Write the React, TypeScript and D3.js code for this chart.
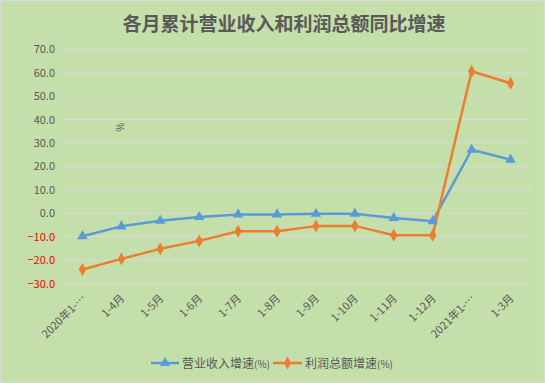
import React from "react";
import * as d3 from "d3";

const categories = ["2020年1-…", "1-4月", "1-5月", "1-6月", "1-7月", "1-8月", "1-9月", "1-10月", "1-11月", "1-12月", "2021年1-…", "1-3月"];
const revenueGrowth = [-9.8, -5.6, -3.2, -1.6, -0.5, -0.5, -0.2, -0.2, -2.0, -3.4, 27.1, 22.9];
const profitGrowth = [-24.0, -19.5, -15.2, -11.8, -7.7, -7.7, -5.5, -5.4, -9.4, -9.4, 60.6, 55.5];
const yTicks = [70, 60, 50, 40, 30, 20, 10, 0, -10, -20, -30];
const title = "各月累计营业收入和利润总额同比增速";
const seriesNames = ["营业收入增速", "利润总额增速"];

const W = 545, H = 383;
const font = "'Noto Sans CJK SC', 'Noto Sans', sans-serif";
const BLUE = "#5B9BD5";
const ORANGE = "#ED7D31";
const GRAY = "#595959";

export default function App() {
  const x = d3.scaleBand<string>().domain(categories).range([63, 530]);
  const y = d3.scaleLinear().domain([-30, 70]).range([283.5, 49.3]);
  const cx = (c: string) => (x(c) as number) + x.bandwidth() / 2;
  const line = d3.line<number>().x((_, i) => cx(categories[i])).y((d) => y(d));
  const tri = d3.symbol().type(d3.symbolTriangle).size(48)();
  const dia = d3.symbol().type(d3.symbolDiamond).size(48)();

  return (
    <svg width={W} height={H} style={{ position: "absolute", left: 0, top: 0, fontFamily: font }}>
      <rect x={0.5} y={0.5} width={W - 1} height={H - 1} fill="#C4DFA9" stroke="#D9D9D9" strokeWidth={1.5} />
      <text x={284} y={31} textAnchor="middle" fontSize={19} fontWeight="bold" fill={GRAY}>{title}</text>
      {yTicks.map((t) => (
        <g key={t}>
          <line x1={63} x2={530} y1={y(t)} y2={y(t)} stroke="#D9D9D9" strokeWidth={1} />
          <text x={55} y={y(t) + 4} textAnchor="end" fontSize={11} fill={t < 0 ? "#FF0000" : GRAY}>{d3.format(".1f")(t)}</text>
        </g>
      ))}
      <text transform="translate(116,127) rotate(90)" fontSize={10} fill={GRAY} textAnchor="middle">%</text>
      {categories.map((c) => (
        <text key={c} transform={`translate(${cx(c) + 4},${299}) rotate(-45)`} textAnchor="end" fontSize={11} fill={GRAY}>{c}</text>
      ))}
      <path d={line(revenueGrowth) || ""} fill="none" stroke={BLUE} strokeWidth={2.5} strokeLinejoin="round" />
      <path d={line(profitGrowth) || ""} fill="none" stroke={ORANGE} strokeWidth={2.5} strokeLinejoin="round" />
      {revenueGrowth.map((v, i) => (
        <path key={"b" + i} d={tri || ""} transform={`translate(${cx(categories[i])},${y(v)})`} fill={BLUE} />
      ))}
      {profitGrowth.map((v, i) => (
        <path key={"o" + i} d={dia || ""} transform={`translate(${cx(categories[i])},${y(v)})`} fill={ORANGE} />
      ))}
      <g>
        <line x1={151} x2={179} y1={363} y2={363} stroke={BLUE} strokeWidth={2.5} />
        <path d={tri || ""} transform="translate(165,363)" fill={BLUE} />
        <text x={182} y={367.5} fontSize={12} fill={GRAY}>{seriesNames[0]}<tspan fontSize={10}>(%)</tspan></text>
        <line x1={273} x2={302} y1={363} y2={363} stroke={ORANGE} strokeWidth={2.5} />
        <path d={dia || ""} transform="translate(287.5,363)" fill={ORANGE} />
        <text x={305} y={367.5} fontSize={12} fill={GRAY}>{seriesNames[1]}<tspan fontSize={10}>(%)</tspan></text>
      </g>
    </svg>
  );
}
